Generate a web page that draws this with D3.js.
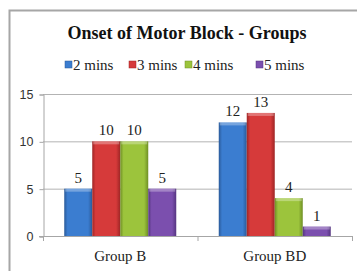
<!DOCTYPE html>
<html>
<head>
<meta charset="utf-8">
<script src="https://cdn.jsdelivr.net/npm/d3@7"></script>
<style>
  body { margin: 0; background: #fff; }
</style>
</head>
<body>
<div id="chart"></div>
<script>
const groups = ['Group B', 'Group BD'];
const seriesNames = ['2 mins', '3 mins', '4 mins', '5 mins'];
const seriesValues = [
  [5, 12],
  [10, 13],
  [10, 4],
  [5, 1]
];
const yTicks = [0, 5, 10, 15];
const colors = ['#3b7dd0', '#d63a3a', '#9cc43c', '#7b4fae'];
const darkColors = ['#2a5a99', '#9e2525', '#6f8f25', '#553580'];

const serif = '"Liberation Serif", "Times New Roman", "DejaVu Serif", serif';
const sans = '"Liberation Sans", Arial, sans-serif';

const width = 357, height = 271;
const margin = { top: 94, right: 5, bottom: 35, left: 43 };

const svg = d3.select('#chart').append('svg')
  .attr('width', width)
  .attr('height', height)
  .style('display', 'block');

// gradients for the bevelled bars
const defs = svg.append('defs');
colors.forEach((c, i) => {
  const g = defs.append('linearGradient').attr('id', 'grad' + i)
    .attr('x1', 0).attr('x2', 1).attr('y1', 0).attr('y2', 0);
  g.append('stop').attr('offset', '0%').attr('stop-color', darkColors[i]);
  g.append('stop').attr('offset', '12%').attr('stop-color', c);
  g.append('stop').attr('offset', '85%').attr('stop-color', c);
  g.append('stop').attr('offset', '100%').attr('stop-color', darkColors[i]);
});

// outer frame (right and bottom edges fall outside the picture)
svg.append('path')
  .attr('d', `M9.5,${height} V10.5 H${width}`)
  .attr('fill', 'none')
  .attr('stroke', '#a6a6a6')
  .attr('stroke-width', 2);

svg.append('text')
  .attr('class', 'serif')
  .attr('x', 187).attr('y', 39)
  .attr('text-anchor', 'middle')
  .attr('font-size', 18)
  .attr('font-weight', 'bold')
  .attr('fill', '#111')
  .text('Onset of Motor Block - Groups');

// legend
const legendX = [65, 129, 185, 256];
const legend = svg.append('g');
seriesNames.forEach((name, i) => {
  const item = legend.append('g').attr('transform', `translate(${legendX[i]},65)`);
  item.append('rect').attr('x', 0).attr('y', -4).attr('width', 7).attr('height', 7)
    .attr('fill', colors[i]).attr('stroke', darkColors[i]).attr('stroke-width', 0.5);
  item.append('text').attr('class', 'serif').attr('x', 8).attr('y', 4.5)
    .attr('font-size', 15).attr('fill', '#222').text(name);
});

const x0 = d3.scaleBand()
  .domain(groups)
  .range([margin.left, width - margin.right]);

const x1 = d3.scaleBand()
  .domain(d3.range(seriesNames.length))
  .range([0, 112]);

const y = d3.scaleLinear()
  .domain([0, 15])
  .range([height - margin.bottom, margin.top]);

// gridlines
svg.append('g')
  .selectAll('line')
  .data(yTicks.filter(d => d > 0))
  .join('line')
  .attr('x1', margin.left).attr('x2', width - margin.right)
  .attr('y1', d => y(d) + 0.5).attr('y2', d => y(d) + 0.5)
  .attr('stroke', '#b3b3b3');

// y axis
const yAxis = svg.append('g')
  .attr('transform', `translate(${margin.left + 0.5},0.5)`)
  .call(d3.axisLeft(y).tickValues(yTicks).tickSize(4).tickPadding(6));
yAxis.select('.domain').attr('stroke', '#a6a6a6');
yAxis.selectAll('.tick line').attr('stroke', '#a6a6a6');
yAxis.selectAll('.tick text')
  .style('font-family', sans)
  .attr('font-size', 12.5).attr('fill', '#333');

// x axis
const xAxis = svg.append('g')
  .attr('transform', `translate(0,${height - margin.bottom + 0.5})`)
  .call(d3.axisBottom(x0).tickSize(0).tickPadding(14));
xAxis.select('.domain').attr('stroke', '#a6a6a6').attr('d', `M${margin.left - 4},0H${width - margin.right}`);
xAxis.selectAll('.tick text')
  .attr('class', 'serif')
  .attr('font-size', 15).attr('fill', '#222');
// category separator ticks
svg.append('g')
  .selectAll('line')
  .data([margin.left, x0(groups[1]), width - margin.right])
  .join('line')
  .attr('x1', d => d + 0.5).attr('x2', d => d + 0.5)
  .attr('y1', height - margin.bottom).attr('y2', height - margin.bottom + 5)
  .attr('stroke', '#a6a6a6');

// bars
const bars = [];
groups.forEach((g, gi) => {
  seriesValues.forEach((vals, si) => {
    bars.push({ group: g, series: si, value: vals[gi] });
  });
});

const offset = (x0.bandwidth() - 112) / 2;
const barG = svg.append('g').selectAll('g')
  .data(bars)
  .join('g')
  .attr('transform', d => `translate(${x0(d.group) + offset + x1(d.series)},0)`);

barG.append('rect')
  .attr('x', 0)
  .attr('y', d => y(d.value))
  .attr('width', x1.bandwidth())
  .attr('height', d => y(0) - y(d.value))
  .attr('fill', d => `url(#grad${d.series})`);

// top highlight
barG.append('rect')
  .attr('x', 1)
  .attr('y', d => y(d.value))
  .attr('width', x1.bandwidth() - 2)
  .attr('height', 3)
  .attr('fill', '#fff')
  .attr('opacity', 0.3);

barG.append('text')
  .attr('class', 'serif')
  .attr('x', x1.bandwidth() / 2)
  .attr('y', d => y(d.value) - 6)
  .attr('text-anchor', 'middle')
  .attr('font-size', 15)
  .attr('fill', '#222')
  .text(d => d.value);

svg.selectAll('text.serif').style('font-family', serif);
</script>
</body>
</html>
